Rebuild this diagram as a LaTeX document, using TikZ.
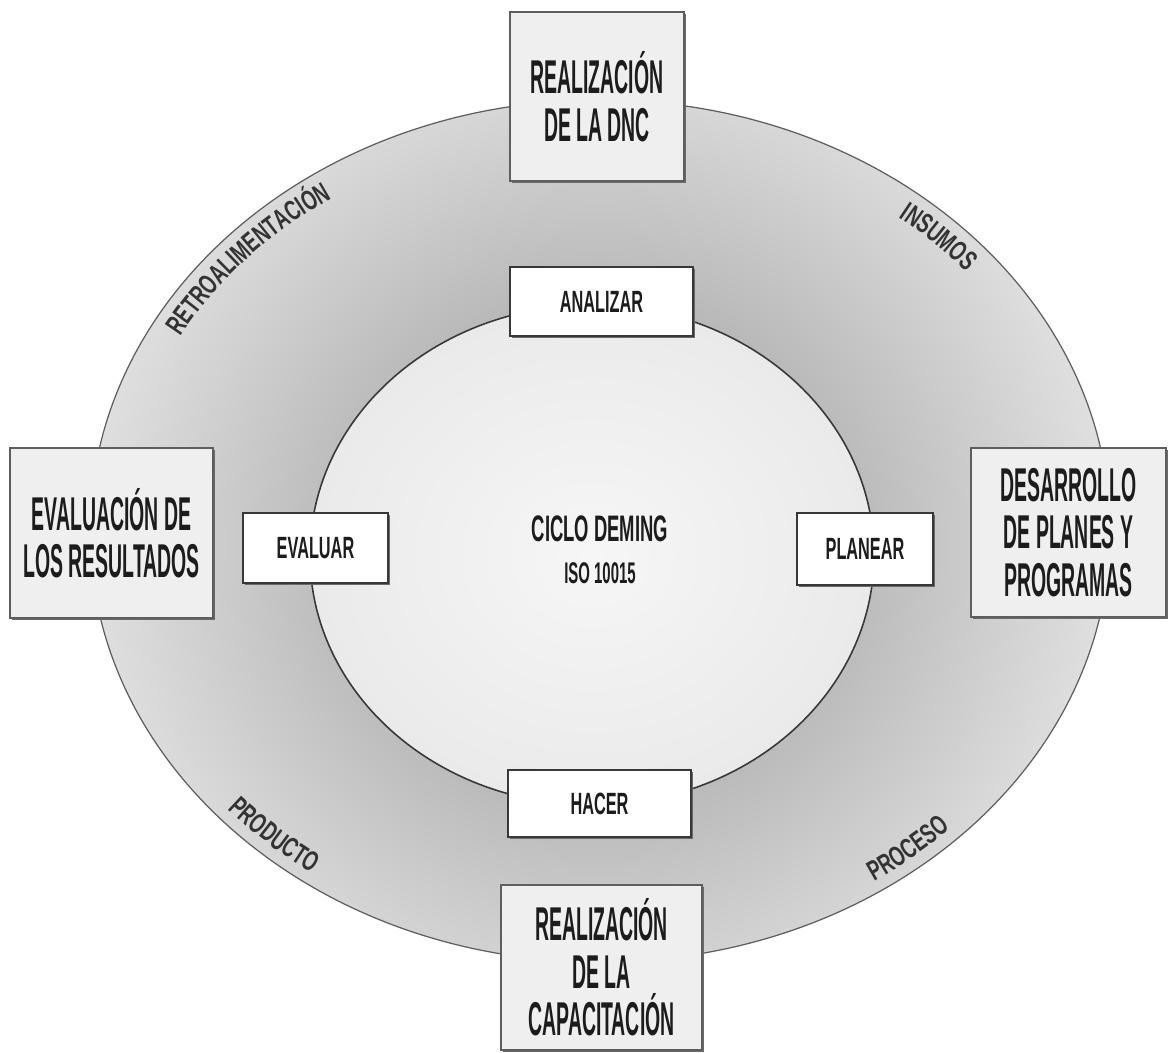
\documentclass[tikz,border=0pt]{standalone}
\usepackage{fontspec}
\setmainfont{Liberation Sans}
\newfontfamily\stagefont{Liberation Sans}[FakeStretch=0.41]
\newfontfamily\phasefont{Liberation Sans}[FakeStretch=0.53]
\newfontfamily\corefont{Liberation Sans}[FakeStretch=0.5]
\newfontfamily\ringfont{Liberation Sans}[FakeStretch=0.66]
\usetikzlibrary{shadows,decorations.text}
\definecolor{Ink}{HTML}{1C1C1C}
\definecolor{Edge}{HTML}{5E5E5E}
\definecolor{EdgeDark}{HTML}{383838}
\definecolor{RingDark}{HTML}{949494}
\definecolor{RingLight}{HTML}{E0E0E0}
\definecolor{CoreMid}{HTML}{F6F6F6}
\definecolor{CoreRim}{HTML}{EAEAEA}
\definecolor{Card}{HTML}{EFEFEF}
\definecolor{Shade}{HTML}{6A6A6A}
\definecolor{RingInk}{HTML}{333333}
\tikzset{
  stage/.style={draw=Edge,fill=Card,line width=.8pt,align=center,inner sep=0pt,text=Ink,font=\stagefont\bfseries\fontsize{27}{27}\selectfont,drop shadow={shadow xshift=1.1pt,shadow yshift=-1.1pt,fill=Shade,opacity=1}},
  phase/.style={draw=EdgeDark,fill=white,line width=.8pt,align=center,inner sep=0pt,text=Ink,font=\phasefont\bfseries\fontsize{17.5}{18}\selectfont,drop shadow={shadow xshift=.9pt,shadow yshift=-.9pt,fill=Shade,opacity=1}},
  core/.style={align=center,inner sep=0pt,text=Ink,font=\corefont\bfseries\fontsize{21}{24}\selectfont},
  rim/.style={draw=Edge,line width=.7pt},
  corerim/.style={draw=EdgeDark,line width=.9pt},
  ringlabel/.style={decorate,decoration={text along path,text color=RingInk,text={|\ringfont\bfseries\fontsize{16}{16}\selectfont|#1}}}
}
\begin{document}
\begin{tikzpicture}[x=0.02cm,y=0.02cm]
      \useasboundingbox (0,0) rectangle (1168,1052);
      \coordinate (ringc) at (600,521);
      \coordinate (corec) at (592,497);
      \begin{scope}
        \clip (ringc) ellipse [x radius=510,y radius=431];
        \shade[inner color=RingDark,outer color=RingLight] (598,505) circle [radius=515];
      \end{scope}
      \draw[rim] (ringc) ellipse [x radius=510,y radius=431];
      \shade[corerim,inner color=CoreMid,outer color=CoreRim] (corec) ellipse [x radius=282,y radius=250];
      \path[ringlabel=RETROALIMENTACIÓN] ([shift={(151:480 and 401)}]ringc) arc [start angle=151,end angle=95,x radius=480,y radius=401];
      \path[ringlabel=INSUMOS] ([shift={(51.5:480 and 401)}]ringc) arc [start angle=51.5,end angle=20,x radius=480,y radius=401];
      \path[ringlabel=PRODUCTO] ([shift={(221.5:497 and 420)}]ringc) arc [start angle=221.5,end angle=260,x radius=497,y radius=420];
      \path[ringlabel=PROCESO] ([shift={(303.5:497 and 420)}]ringc) arc [start angle=303.5,end angle=340,x radius=497,y radius=420];
      \node[stage,minimum width=3.48cm,minimum height=3.38cm] (dnc) at (597,955.5) {REALIZACIÓN\\DE LA DNC};
      \node[stage,minimum width=4.06cm,minimum height=3.40cm] (results) at (111.5,519) {EVALUACIÓN DE\\LOS RESULTADOS};
      \node[stage,minimum width=3.90cm,minimum height=3.38cm] (plans) at (1068.5,519.5) {DESARROLLO\\DE PLANES Y\\PROGRAMAS};
      \node[stage,minimum width=4.02cm,minimum height=3.30cm] (training) at (601.5,84.5) {REALIZACIÓN\\DE LA\\CAPACITACIÓN};
      \node[phase,minimum width=3.66cm,minimum height=1.38cm] (analizar) at (601.5,750.5) {ANALIZAR};
      \node[phase,minimum width=2.90cm,minimum height=1.40cm] (evaluar) at (315.5,504) {EVALUAR};
      \node[phase,minimum width=2.72cm,minimum height=1.44cm] (planear) at (865,503) {PLANEAR};
      \node[phase,minimum width=3.66cm,minimum height=1.34cm] (hacer) at (599.5,248.5) {HACER};
      \node[core] (deming) at (600,502) {CICLO DEMING\\{\fontsize{17}{18}\selectfont ISO 10015}};
    \end{tikzpicture}
\end{document}
